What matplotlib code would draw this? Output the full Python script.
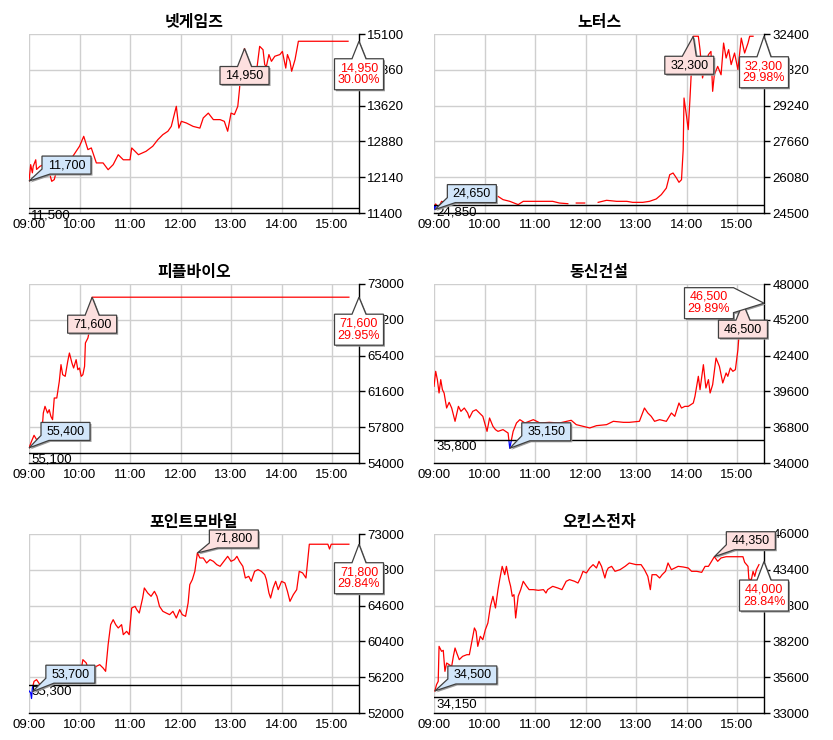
import numpy as np
import matplotlib
matplotlib.use('Agg')
import matplotlib.pyplot as plt
import matplotlib.transforms as mtransforms
from matplotlib.patches import Polygon, Rectangle

plt.rcParams['font.family'] = ['Liberation Sans', 'Noto Sans CJK KR']
plt.rcParams['font.size'] = 9

##DATA##########################################################################
# minutes after 09:00, price
names = ['넷게임즈', '노터스', '피플바이오', '동신건설', '포인트모바일', '오킨스전자']
prev_close = [11500, 24850, 55100, 35800, 55300, 34150]
y_ticks = [
    [11400, 12140, 12880, 13620, 14360, 15100],
    [24500, 26080, 27660, 29240, 30820, 32400],
    [54000, 57800, 61600, 65400, 69200, 73000],
    [34000, 36800, 39600, 42400, 45200, 48000],
    [52000, 56200, 60400, 64600, 68800, 73000],
    [33000, 35600, 38200, 40800, 43400, 46000],
]

t1 = [0, 2, 4, 5, 8, 9, 13, 21, 27, 30, 34, 44, 52, 60, 65, 70, 74, 80, 88, 94,
      100, 106, 112, 120, 122, 130, 139, 147, 153, 159, 165, 169, 175, 178, 181,
      187, 195, 203, 207, 213, 219, 227, 232, 236, 240, 244, 248, 250, 252, 256,
      262, 271, 274, 278, 280, 282, 285, 288, 292, 298, 301, 305, 307, 310, 312,
      316, 320, 379]
p1 = [12060, 12400, 12230, 12365, 12500, 12300, 12365, 12430, 12055, 12090, 12365,
      12470, 12570, 12780, 12985, 12710, 12745, 12435, 12435, 12295, 12400, 12605,
      12500, 12500, 12745, 12605, 12675, 12780, 12915, 13020, 13090, 13190, 13605,
      13155, 13295, 13260, 13190, 13155, 13365, 13465, 13330, 13330, 13295, 13090,
      13465, 13435, 13605, 13950, 14430, 14800, 14330, 14430, 14845, 14775, 14465,
      14430, 14675, 14535, 14640, 14675, 14740, 14395, 14675, 14535, 14330, 14570,
      14950, 14950]

t2 = [0, 1, 2, 5, 9, 15, 23, 30, 36, 50, 65, 76, 82, 90, 100, 106, 118, 130, 141,
      149, 159, 165, 169, 179, 186, 195, 205, 217, 229, 236, 248, 256, 264, 270,
      276, 280, 284, 288, 291, 294, 296, 297, 300, 302, 304, 306, 308, 314, 316,
      319, 322, 326, 329, 331, 333, 337, 341, 344, 347, 350, 353, 357, 361, 365,
      369, 373, 375, 379]
p2 = [24850, 24650, 24900, 24720, 25015, 24940, 25015, 24910, 25015, 25100, 25150,
      25235, 25090, 25015, 24870, 25015, 25015, 25015, 25015, 24940, 24910, np.nan,
      24940, 24940, np.nan, 24970, 25060, 25015, 25015, 24970, 24970, 25015, 25120,
      25310, 25600, 26190, 26265, 26045, 25855, 25970, 27295, 29575, 28765, 28180,
      29500, 30970, 32300, 32300, 31710, 30460, 30970, 31490, 31630, 29870, 30600,
      30970, 30600, 32000, 31340, 31710, 31050, 31560, 30830, 32220, 31560, 32000,
      32300, 32300]

t3 = [0, 3, 6, 9, 12, 15, 17, 19, 22, 24, 26, 28, 30, 33, 36, 38, 40, 43, 46, 48,
      51, 53, 56, 58, 60, 62, 64, 66, 67, 70, 72, 75, 380]
p3 = [55600, 56300, 56940, 56480, 56650, 56830, 59300, 60015, 59300, 59660, 58950,
      58600, 60900, 60900, 62670, 64440, 63375, 63200, 64790, 65675, 64615, 64085,
      64970, 63900, 64085, 63200, 63375, 64260, 66740, 67270, 68150, 71600, 71600]

t4 = [0, 2, 4, 6, 8, 10, 12, 15, 18, 21, 25, 29, 32, 36, 40, 42, 46, 50, 54, 58,
      63, 66, 70, 73, 76, 82, 88, 90, 94, 98, 102, 108, 118, 126, 137, 149, 163,
      169, 177, 185, 193, 205, 213, 225, 232, 244, 250, 254, 258, 262, 268, 276,
      282, 286, 291, 294, 298, 302, 308, 310, 314, 316, 320, 323, 326, 328, 331,
      335, 339, 343, 347, 349, 352, 355, 358, 359, 361, 364, 367, 371, 373, 376]
p4 = [40000, 41170, 40520, 39475, 40520, 39735, 39475, 38300, 38745, 38300, 37260,
      38430, 38040, 38300, 37910, 37520, 38040, 38170, 37910, 37650, 36475, 37520,
      36870, 36610, 36475, 36610, 36345, 35150, 36475, 37130, 37390, 37130, 37390,
      37130, 37180, 37130, 37340, 37000, 36870, 36740, 36920, 37000, 37260, 37180,
      37180, 37260, 38300, 37910, 37650, 37260, 37390, 37260, 37910, 37650, 38690,
      38300, 38430, 38430, 38690, 39215, 40780, 39735, 41690, 39865, 40520, 39475,
      40125, 42210, 41560, 40260, 41040, 40780, 41430, 41170, 41300, 41820, 42860,
      45470, 46500, 46120, 46500, 46500]

t5 = [0, 2, 3, 4, 6, 9, 13, 17, 25, 34, 44, 48, 54, 60, 64, 68, 72, 76, 80, 84, 88,
      91, 94, 97, 100, 103, 106, 110, 112, 116, 119, 122, 126, 128, 131, 135, 137,
      141, 145, 149, 152, 155, 159, 163, 167, 171, 175, 179, 182, 186, 189, 191,
      194, 197, 200, 203, 207, 211, 215, 219, 223, 227, 230, 236, 240, 244, 247,
      250, 254, 257, 261, 264, 268, 272, 276, 280, 282, 285, 287, 290, 293, 296,
      300, 304, 307, 310, 314, 318, 321, 325, 329, 333, 355, 357, 359, 380]
p5 = [54600, 54350, 53700, 54930, 55715, 55910, 55325, 55600, 55440, 55600, 55520,
      55715, 55600, 55910, 58260, 57870, 56690, 57085, 57475, 57670, 57280, 56890,
      60020, 62365, 62950, 62365, 61975, 62365, 61190, 61580, 61190, 64320, 64515,
      64125, 63730, 65490, 66665, 66080, 65690, 66275, 65690, 64515, 63930, 63730,
      63540, 63930, 63145, 64125, 63540, 63340, 64905, 67060, 67645, 68620, 70775,
      70185, 70185, 69600, 69990, 69795, 69405, 69210, 69600, 70380, 69795, 69990,
      70380, 69795, 69210, 67840, 68035, 67450, 68620, 68820, 68620, 68230, 67645,
      66080, 65490, 66665, 67450, 66470, 67450, 67255, 66275, 65100, 65885, 66470,
      68620, 68430, 67840, 71800, 71800, 71240, 71800, 71800]

t6 = [1, 3, 5, 6, 9, 11, 13, 15, 18, 21, 23, 25, 27, 30, 34, 39, 42, 45, 48, 50,
      52, 55, 58, 61, 64, 67, 70, 73, 76, 78, 81, 84, 86, 89, 91, 93, 95, 97, 100,
      103, 106, 110, 113, 118, 124, 130, 133, 135, 141, 147, 152, 157, 161, 167,
      171, 174, 177, 181, 185, 189, 193, 196, 199, 203, 205, 207, 211, 215, 221,
      227, 232, 240, 246, 250, 254, 257, 259, 264, 268, 271, 275, 278, 282, 286,
      290, 296, 302, 306, 312, 318, 322, 326, 329, 333, 337, 341, 347, 367, 369,
      373, 374, 377, 379, 381, 383, 386]
p6 = [34600, 35060, 35300, 37840, 37480, 37550, 36025, 36630, 36510, 36390, 37115,
      37720, 37360, 36875, 37115, 37235, 37235, 38205, 39175, 38930, 37840, 38570,
      38325, 39050, 39535, 40750, 41475, 40625, 41960, 42685, 43650, 43045, 43650,
      42685, 42200, 41475, 41595, 39900, 41475, 41960, 42565, 42200, 41960, 41960,
      41910, 41960, 41715, 41960, 42200, 42080, 41960, 42565, 42685, 42565, 42440,
      42805, 43290, 43170, 43530, 43775, 43530, 44015, 43650, 42805, 43290, 43530,
      43650, 43290, 43410, 43650, 43895, 43775, 43775, 43410, 42925, 41960, 43045,
      43045, 42805, 43045, 43290, 43895, 43410, 43530, 43650, 43605, 43530, 43290,
      43290, 43215, 43650, 43650, 43945, 44350, 44015, 44260, 44350, 44350, 43945,
      43650, 42730, 42685, 43290, 42925, 43410, 43775]

times = [t1, t2, t3, t4, t5, t6]
prices = [p1, p2, p3, p4, p5, p6]

# callouts: tip position (time, price) and label
low_marks = [(0, 12060, '11,700'), (1, 24650, '24,650'), (0, 55600, '55,400'),
             (90, 35150, '35,150'), (4, 54500, '53,700'), (1, 34600, '34,500')]
high_marks = [(256, 14800, '14,950'), (308, 32300, '32,300'), (75, 71600, '71,600'),
              (367, 46500, '46,500'), (200, 70775, '71,800'), (333, 44350, '44,350')]
last_marks = [(14950, '14,950', '30.00%'), (32300, '32,300', '29.98%'),
              (71600, '71,600', '29.95%'), (46500, '46,500', '29.89%'),
              (71800, '71,800', '29.84%'), (44000, '44,000', '28.84%')]
low_off = [(37.5, 16), (37, 16), (36.5, 16.5), (36.5, 16.5), (38, 17.5), (37.5, 16)]
high_style = [('below', (0, -27)), ('below', (-4, -29)), ('below', (0, -27)),
              ('below', (0, -26)), ('upright', (36.5, 14)), ('upright', (36.5, 16))]
last_style = [('below', (0, -33)), ('below', (0, -36)), ('below', (0, -32.5)),
              ('left', (-55, 0)), ('below', (0, -34)), ('below', (0, -34))]
################################################################################

x_end = 392
hour_ticks = [0, 60, 120, 180, 240, 300, 360]
hour_labels = ['09:00', '10:00', '11:00', '12:00', '13:00', '14:00', '15:00']

lefts = [29, 434]
tops = [34, 284, 534]
W, H = 833, 740


def callout(ax, x, y, text, fc, tc, kind, off, w=49, h=18):
    tr = mtransforms.Affine2D() + mtransforms.ScaledTranslation(x, y, ax.transData)
    cx, cy = off
    l, r, b, t = cx - w / 2, cx + w / 2, cy - h / 2, cy + h / 2
    if kind == 'below':
        verts = [(l, b), (r, b), (r, t), (cx + 7, t), (0, 0), (cx - 7, t), (l, t)]
    elif kind == 'upright':
        verts = [(l, t), (r, t), (r, b), (l + 8, b), (0, 0), (l, b + 5)]
    else:
        verts = [(l, b), (r, b), (r, t - 25), (0, 0), (r, t), (l, t)]
    shadow = Polygon([(vx + 1.5, vy - 1.5) for vx, vy in verts], closed=True,
                     transform=tr, fc='#9a9a9a', ec='none', zorder=6)
    poly = Polygon(verts, closed=True, transform=tr, fc=fc, ec='#404040',
                   lw=0.9, zorder=7)
    for a in (shadow, poly):
        ax.add_artist(a)
        a.set_clip_on(False)
    ax.text(cx, cy, text, transform=tr, ha='center', va='center', color=tc,
            fontsize=9, linespacing=1.05, zorder=8)


fig = plt.figure(figsize=(W / 100, H / 100), dpi=100)

for i in range(6):
    row, col = i // 2, i % 2
    ax = fig.add_axes([lefts[col] / W, 1 - (tops[row] + 179) / H, 330 / W, 179 / H])
    yt = y_ticks[i]
    ax.set_xlim(0, x_end)
    ax.set_ylim(yt[0], yt[-1])
    ax.set_xticks(hour_ticks)
    ax.set_xticklabels(hour_labels)
    ax.set_yticks(yt)
    ax.set_yticklabels([str(v) for v in yt])
    ax.yaxis.tick_right()
    ax.tick_params(axis='y', length=4, width=1, pad=2, labelsize=9.5)
    ax.tick_params(axis='x', length=0, pad=4, labelsize=9.5)
    ax.grid(True, color='#cfcfcf', lw=1)
    ax.set_axisbelow(True)
    for s in ('top', 'left'):
        ax.spines[s].set_visible(False)
    for s in ('right', 'bottom'):
        ax.spines[s].set_color('black')
        ax.spines[s].set_linewidth(1)
    ax.set_title(names[i], fontsize=11.5, fontweight='bold',
                 fontfamily='Noto Sans CJK KR', pad=5)

    pc = prev_close[i]
    t = np.array(times[i], dtype=float)
    p = np.array(prices[i], dtype=float)
    red, = ax.plot(t, p, color='#ff0000', lw=0.9, zorder=3)
    blue, = ax.plot(t, p, color='#0000ff', lw=0.9, zorder=3)
    red.set_clip_path(Rectangle((0, pc), x_end, yt[-1] - pc, transform=ax.transData))
    blue.set_clip_path(Rectangle((0, yt[0]), x_end, pc - yt[0], transform=ax.transData))

    ax.axhline(pc, color='black', lw=1, zorder=4)
    ax.annotate(f'{pc:,}', xy=(0, pc), xytext=(2, -1), textcoords='offset pixels',
                ha='left', va='top', fontsize=9.5, zorder=5)

    lx, ly, ltxt = low_marks[i]
    callout(ax, lx, ly, ltxt, '#d2e6fa', 'black', 'upright', low_off[i])
    hx, hy, htxt = high_marks[i]
    callout(ax, hx, hy, htxt, '#fde0df', 'black', high_style[i][0], high_style[i][1])
    cy_, ctxt, cpct = last_marks[i]
    callout(ax, x_end, cy_, ctxt + '\n' + cpct, 'white', '#ff0000',
            last_style[i][0], last_style[i][1], h=31)

fig.savefig('out.png', dpi=100)
